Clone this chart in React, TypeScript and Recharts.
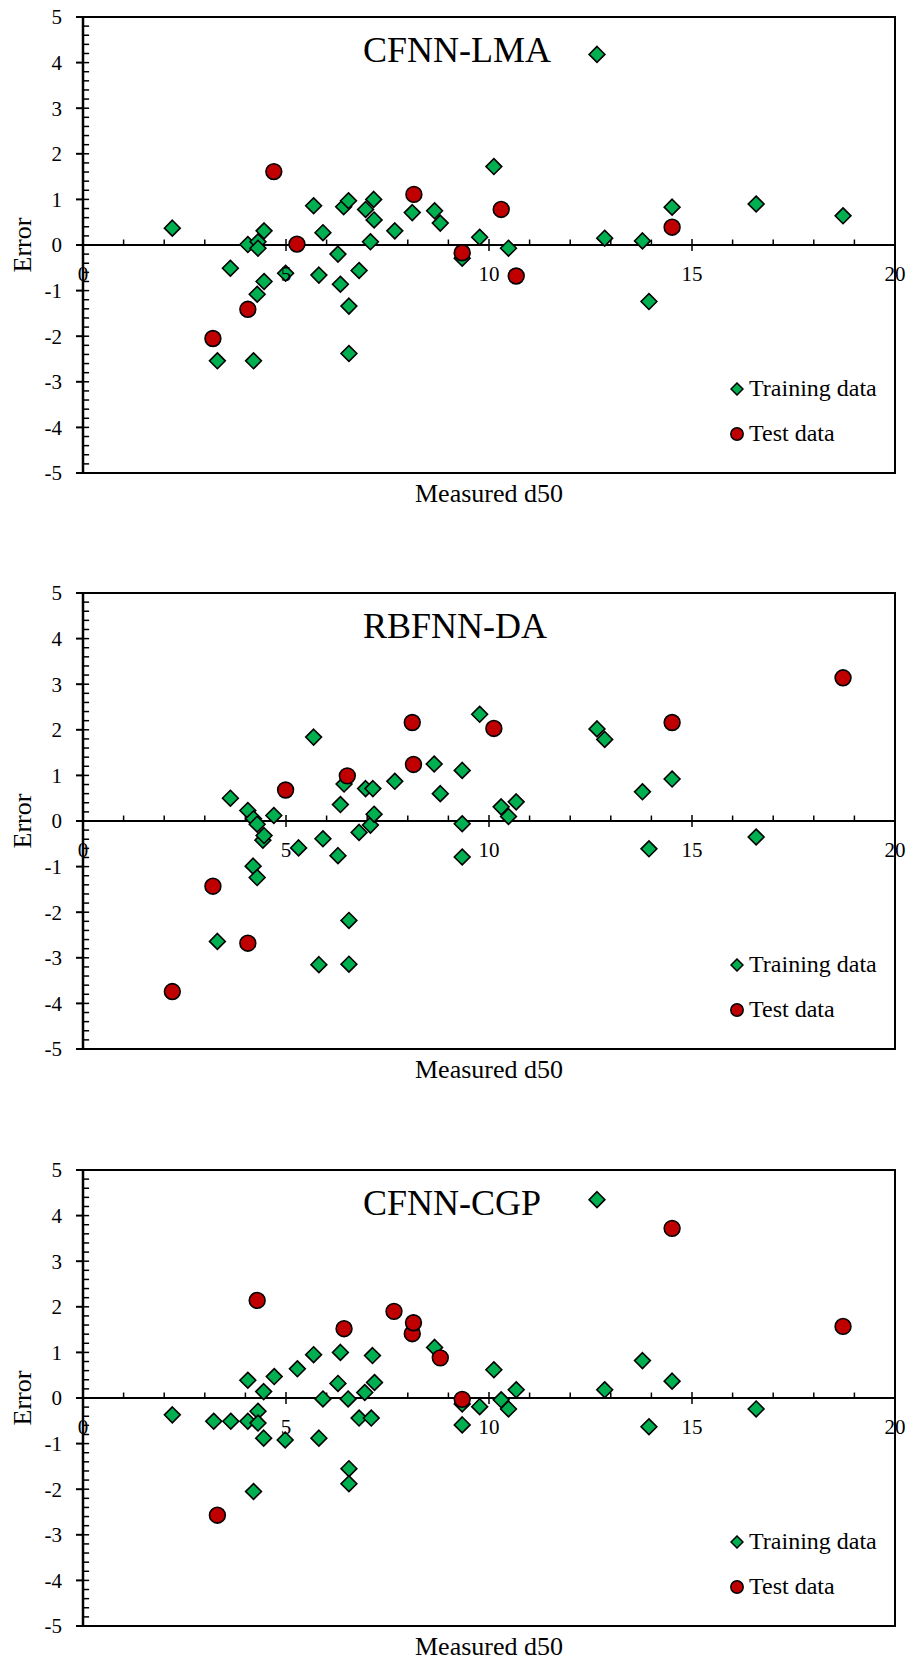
import React from 'react';
import {
  ScatterChart,
  Scatter,
  XAxis,
  YAxis,
  ReferenceLine,
  ReferenceArea,
  ReferenceDot,
  Legend,
} from 'recharts';

const FONT = '"Liberation Serif", "Times New Roman", serif';
const GREEN = '#00B050';
const RED = '#C00000';

const xTicks = [0, 5, 10, 15, 20];
const yTicks = [-5, -4, -3, -2, -1, 0, 1, 2, 3, 4, 5];
const titles = ['CFNN-LMA', 'RBFNN-DA', 'CFNN-CGP'];
const seriesNames = ['Training data', 'Test data'];

type Pt = [number, number];

// [measured d50, error]
const lmaTraining: Pt[] = [
  [2.2, 0.37], [3.31, -2.54], [3.63, -0.51], [4.06, 0.01], [4.2, -2.54], [4.29, -1.08],
  [4.31, 0.07], [4.31, -0.07], [4.46, 0.31], [4.46, -0.8], [4.99, -0.62], [5.68, 0.86],
  [5.81, -0.66], [5.91, 0.27], [6.28, -0.2], [6.34, -0.86], [6.42, 0.84], [6.54, 0.97],
  [6.55, -1.34], [6.55, -2.38], [6.8, -0.56], [6.96, 0.78], [7.08, 0.07], [7.16, 1.0],
  [7.17, 0.55], [7.68, 0.31], [8.11, 0.71], [8.66, 0.75], [8.8, 0.48], [9.34, -0.29],
  [9.77, 0.17], [10.12, 1.72], [10.48, -0.07], [12.66, 4.18], [12.85, 0.15], [13.78, 0.09],
  [13.94, -1.24], [14.51, 0.83], [16.58, 0.9], [18.72, 0.64],
];
const lmaTest: Pt[] = [
  [3.2, -2.05], [4.06, -1.41], [4.7, 1.61], [5.27, 0.02], [8.15, 1.11], [9.34, -0.17],
  [10.3, 0.78], [10.67, -0.68], [14.51, 0.39],
];

const daTraining: Pt[] = [
  [3.31, -2.64], [3.63, 0.5], [4.06, 0.23], [4.19, -0.99], [4.2, 0.05], [4.29, -0.07],
  [4.29, -1.24], [4.43, -0.42], [4.46, -0.32], [4.7, 0.12], [5.31, -0.59], [5.68, 1.84],
  [5.81, -3.15], [5.91, -0.39], [6.28, -0.76], [6.34, 0.36], [6.43, 0.81], [6.55, -2.18],
  [6.55, -3.14], [6.8, -0.25], [6.96, 0.71], [7.08, -0.09], [7.14, 0.71], [7.17, 0.15],
  [7.68, 0.87], [8.65, 1.25], [8.8, 0.6], [9.34, 1.11], [9.34, -0.06], [9.34, -0.79],
  [9.77, 2.34], [10.3, 0.31], [10.48, 0.1], [10.67, 0.42], [12.66, 2.02], [12.85, 1.79],
  [13.78, 0.64], [13.94, -0.61], [14.51, 0.92], [16.58, -0.35],
];
const daTest: Pt[] = [
  [2.2, -3.74], [3.2, -1.43], [4.06, -2.68], [4.99, 0.68], [6.51, 0.99], [8.11, 2.16],
  [8.14, 1.24], [10.12, 2.03], [14.51, 2.16], [18.72, 3.14],
];

const cgpTraining: Pt[] = [
  [2.2, -0.37], [3.22, -0.51], [3.64, -0.51], [4.06, 0.39], [4.06, -0.51], [4.2, -2.05],
  [4.31, -0.29], [4.31, -0.55], [4.45, 0.14], [4.45, -0.88], [4.71, 0.47], [4.98, -0.92],
  [5.28, 0.64], [5.68, 0.95], [5.81, -0.88], [5.91, -0.02], [6.28, 0.32], [6.34, 1.0],
  [6.53, -0.02], [6.55, -1.55], [6.55, -1.88], [6.8, -0.44], [6.94, 0.12], [7.1, -0.44],
  [7.13, 0.93], [7.18, 0.34], [8.66, 1.11], [9.34, -0.13], [9.34, -0.59], [9.77, -0.19],
  [10.12, 0.62], [10.3, -0.04], [10.48, -0.24], [10.67, 0.18], [12.66, 4.35], [12.85, 0.18],
  [13.78, 0.82], [13.94, -0.63], [14.51, 0.37], [16.58, -0.24],
];
const cgpTest: Pt[] = [
  [3.31, -2.57], [4.29, 2.14], [6.43, 1.52], [7.66, 1.9], [8.11, 1.41], [8.14, 1.65],
  [8.8, 0.88], [9.34, -0.03], [14.51, 3.72], [18.72, 1.57],
];

const toRows = (pts: Pt[]) => pts.map(([x, y]) => ({ x, y }));

// small tick marks drawn on the zero line and inside the y axis
const minorX = Array.from({ length: 19 }, (_, i) => i + 1).filter((v) => v % 5 !== 0);
const minorY = Array.from({ length: 51 }, (_, i) => Math.round((-5 + i * 0.2) * 10) / 10);

const Diamond = (props: any) => {
  const { cx, cy } = props;
  const s = 7.9;
  return (
    <path
      d={`M${cx},${cy - s}L${cx + s},${cy}L${cx},${cy + s}L${cx - s},${cy}Z`}
      fill={GREEN}
      stroke="#000"
      strokeWidth={1.6}
    />
  );
};

const Circle = (props: any) => {
  const { cx, cy } = props;
  return <circle cx={cx} cy={cy} r={7.9} fill={RED} stroke="#000" strokeWidth={1.6} />;
};

const LegendBox = (props: any) => {
  const items = [...(props.payload || [])].sort(
    (a: any, b: any) => seriesNames.indexOf(a.value) - seriesNames.indexOf(b.value)
  );
  return (
    <div style={{ fontFamily: FONT, fontSize: 24, color: '#000' }}>
      {items.map((entry: any) => (
        <div key={entry.value} style={{ height: 45, display: 'flex', alignItems: 'center' }}>
          <svg width={14} height={14} style={{ marginRight: 5 }}>
            {entry.value === seriesNames[0] ? (
              <path d="M7,1L13,7L7,13L1,7Z" fill={GREEN} stroke="#000" strokeWidth={1.5} />
            ) : (
              <circle cx={7} cy={7} r={6.2} fill={RED} stroke="#000" strokeWidth={1.5} />
            )}
          </svg>
          <span>{entry.value}</span>
        </div>
      ))}
    </div>
  );
};

interface PanelProps {
  title: string;
  training: Pt[];
  test: Pt[];
  top: number;
}

const Panel: React.FC<PanelProps> = ({ title, training, test, top }) => (
  <div style={{ position: 'absolute', left: 0, top, width: 913, height: 520 }}>
    <ScatterChart width={913} height={520} margin={{ top: 17, right: 18, bottom: 0, left: 0 }}>
      <XAxis
        type="number"
        dataKey="x"
        domain={[0, 20]}
        ticks={xTicks}
        tick={false}
        tickLine={false}
        axisLine={false}
        height={47}
        label={{ value: 'Measured d50', position: 'insideTop', offset: 11, fill: '#000', fontSize: 26 }}
      />
      <YAxis
        type="number"
        dataKey="y"
        domain={[-5, 5]}
        ticks={yTicks}
        interval={0}
        width={83}
        tickSize={7}
        tickMargin={14}
        tick={{ fill: '#000', fontSize: 21 }}
        tickLine={{ stroke: '#000', strokeWidth: 2 }}
        axisLine={{ stroke: '#000', strokeWidth: 2.5 }}
        label={{
          value: 'Error',
          angle: -90,
          position: 'insideLeft',
          offset: 22,
          fill: '#000',
          fontSize: 26,
          style: { textAnchor: 'middle' },
        }}
      />
      <ReferenceArea x1={0} x2={20} y1={-5} y2={5} fill="none" stroke="#000" strokeWidth={2} />
      <ReferenceLine y={0} stroke="#000" strokeWidth={2} />
      {minorY.map((v) => (
        <ReferenceLine
          key={`my${v}`}
          segment={[{ x: 0, y: v }, { x: 0.15, y: v }]}
          stroke="#000"
          strokeWidth={1.5}
        />
      ))}
      {minorX.map((v) => (
        <ReferenceLine
          key={`mx${v}`}
          segment={[{ x: v, y: 0 }, { x: v, y: 0.12 }]}
          stroke="#000"
          strokeWidth={1.5}
        />
      ))}
      {xTicks.map((v) => (
        <ReferenceLine
          key={`Mx${v}`}
          segment={[{ x: v, y: -0.13 }, { x: v, y: 0.13 }]}
          stroke="#000"
          strokeWidth={1.5}
        />
      ))}
      {xTicks.map((v) => (
        <ReferenceDot
          key={`lx${v}`}
          x={v}
          y={0}
          r={0}
          fill="none"
          stroke="none"
          label={{ value: String(v), position: 'bottom', offset: 21, fill: '#000', fontSize: 21 }}
        />
      ))}
      <Scatter name={seriesNames[0]} data={toRows(training)} fill={GREEN} shape={Diamond} isAnimationActive={false} />
      <Scatter name={seriesNames[1]} data={toRows(test)} fill={RED} shape={Circle} isAnimationActive={false} />
      <Legend
        layout="vertical"
        align="center"
        verticalAlign="middle"
        wrapperStyle={{ left: 730, top: 366 }}
        content={LegendBox}
      />
    </ScatterChart>
    <div
      style={{
        position: 'absolute',
        left: 363,
        top: 32,
        fontSize: 36,
        lineHeight: '36px',
        fontFamily: FONT,
        color: '#000',
        whiteSpace: 'nowrap',
      }}
    >
      {title}
    </div>
  </div>
);

export default function App() {
  return (
    <div
      style={{
        position: 'absolute',
        left: 0,
        top: 0,
        width: 913,
        height: 1662,
        overflow: 'hidden',
        background: '#fff',
        fontFamily: FONT,
      }}
    >
      <Panel title={titles[0]} training={lmaTraining} test={lmaTest} top={0} />
      <Panel title={titles[1]} training={daTraining} test={daTest} top={576} />
      <Panel title={titles[2]} training={cgpTraining} test={cgpTest} top={1153} />
    </div>
  );
}
